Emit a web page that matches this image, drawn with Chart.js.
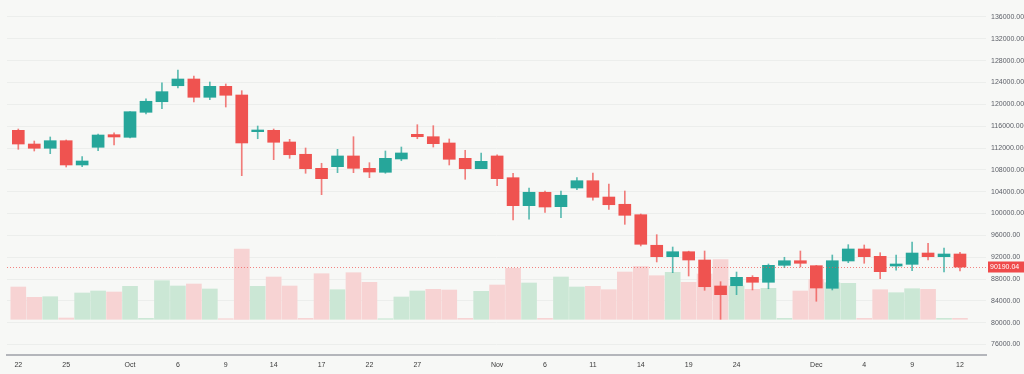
<!DOCTYPE html>
<html>
<head>
<meta charset="utf-8">
<script src="https://cdn.jsdelivr.net/npm/chart.js@4"></script>
<style>
  html, body { margin: 0; padding: 0; background: #f7f8f6; }
  #wrap { width: 1024px; height: 374px; }
</style>
</head>
<body>
<div id="wrap"><canvas id="candles"></canvas></div>
<script>
/******************** data ********************/
const opens  = [115240,112730,111950,113340,108890,112130,114440,113960,118540,120480,
                123410,124640,121290,123300,121710,114990,115240,113100,110850,108280,
                108580,110540,108280,107550,109990,114510,114070,112920,110110,108210,
                110540,106560,101430,103890,101250,104670,106010,103020,101690,99780,
                94180,92090,93000,91480,86720,86770,88310,87400,90510,91350,
                90440,86300,91300,93500,92160,90380,90690,92760,92090,92580];
const highs  = [115480,113280,114020,113470,110410,114570,114800,118650,121030,123960,
                126290,125190,124090,123730,122500,116030,115480,113590,112000,109200,
                111760,114070,109310,111450,112180,116270,116090,113650,111580,111090,
                110770,107370,104670,104120,104120,106560,107420,105410,104120,99910,
                96120,93860,93100,93130,87510,89280,88610,90750,91980,93130,
                90500,92400,94290,94230,92820,92400,94780,94540,93680,92890];
const lows   = [111760,111450,110960,108520,108580,111510,112550,113830,118230,119200,
                122990,120430,120850,119510,106930,113700,109860,110110,107370,103450,
                107480,107480,106560,107370,109670,113700,112180,108890,106270,108210,
                105090,98810,98940,100220,99230,104360,102420,100770,98020,94050,
                91120,89160,88550,85930,80620,85130,85990,86220,90070,90200,
                83920,85990,90990,90880,88060,89600,89520,91480,89280,89470];
const closes = [112730,111950,113340,108890,109620,114380,114020,118650,120560,122320,
                124640,121290,123300,121660,112920,115300,113050,110770,108210,106380,
                110540,108280,107600,110110,111090,114070,112790,109930,108210,109560,
                106380,101430,103890,101190,103340,106010,102970,101610,99670,94360,
                92090,93000,91480,86590,85130,88310,87400,90510,91350,90880,
                86350,91350,93500,92090,89340,90750,92760,92090,92580,90190.04];
const volumes = [32.3,22.0,22.6,1.3,26.3,28.3,27.3,33.0,1.0,38.6,
                 33.3,35.3,30.3,0.6,70.3,33.0,42.3,33.3,1.0,45.6,
                 29.6,46.6,37.0,0.6,22.3,28.3,30.0,29.3,1.0,28.0,
                 34.3,51.0,36.3,1.0,42.3,32.3,33.0,29.6,47.3,52.6,
                 43.6,47.0,37.0,45.3,59.6,33.3,30.0,31.0,1.0,28.3,
                 40.0,36.6,36.0,1.0,29.6,26.6,30.6,30.0,1.0,1.0];
// 1 = up volume bar, 0 = down volume bar
const volUp = [0,0,1,0,1,1,0,1,1,1, 1,0,1,0,0,1,0,0,0,0,
               1,0,0,1,1,1,0,0,0,1, 0,0,1,0,1,1,0,0,0,0,
               0,1,0,0,0,1,0,1,1,0, 0,1,1,0,0,1,1,0,1,0];

const xTickPos  = [0,3,7,10,13,16,19,22,25,30,33,36,39,42,45,50,53,56,59];
const xTickText = ['22','25','Oct','6','9','14','17','22','27','Nov','6','11','14','19','24','Dec','4','9','12'];
const priceTicks = [76000,80000,84000,88000,92000,96000,100000,104000,108000,112000,116000,120000,124000,128000,132000,136000];

/******************** colours ********************/
const UP = '#26a69a';
const DOWN = '#ef5350';
const UP_WICK = 'rgba(38,166,154,0.75)';
const DOWN_WICK = 'rgba(239,83,80,0.75)';
const VOL_UP = '#cbe7d5';
const VOL_DOWN = '#f7d3d3';

/******************** build datasets ********************/
let bodyData = [], wickData = [], volData = [];
let bodyColors = [], wickColors = [], volColors = [];
for (let i = 0; i < opens.length; i++) {
    let up = closes[i] >= opens[i];
    bodyData.push({x: i, y: [opens[i], closes[i]]});
    wickData.push({x: i, y: [lows[i], highs[i]]});
    volData.push({x: i, y: volumes[i]});
    bodyColors.push(up ? UP : DOWN);
    wickColors.push(up ? UP_WICK : DOWN_WICK);
    volColors.push(volUp[i] ? VOL_UP : VOL_DOWN);
}
const lastClose = closes[closes.length - 1];

// dotted last-price line and its red tag on the price scale
const lastPricePlugin = {
    id: 'lastPrice',
    afterDatasetsDraw(chart) {
        const {ctx, chartArea} = chart;
        const y = Math.round(chart.scales.y.getPixelForValue(lastClose)) + 0.5;
        ctx.save();
        ctx.strokeStyle = 'rgba(239,83,80,0.7)';
        ctx.lineWidth = 1;
        ctx.setLineDash([1, 2]);
        ctx.beginPath();
        ctx.moveTo(chartArea.left, y);
        ctx.lineTo(chartArea.right, y);
        ctx.stroke();
        ctx.setLineDash([]);
        ctx.fillStyle = '#ef4a4a';
        ctx.fillRect(chartArea.right + 2, y - 6, chart.width - chartArea.right - 2, 11);
        ctx.fillStyle = '#ffffff';
        ctx.font = '7px "Liberation Sans", Arial, sans-serif';
        ctx.textBaseline = 'middle';
        ctx.textAlign = 'left';
        ctx.fillText(lastClose.toFixed(2), chartArea.right + 4, y);
        ctx.restore();
    }
};

const ctx = document.getElementById('candles');
const chart = new Chart(ctx, {
    type: 'bar',
    data: {
        datasets: [{
            label: 'body',
            data: bodyData,
            backgroundColor: bodyColors,
            barThickness: 12,
            minBarLength: 1.5,
            grouped: false,
            yAxisID: 'y',
            order: 0
        }, {
            label: 'wick',
            data: wickData,
            backgroundColor: wickColors,
            barThickness: 1,
            grouped: false,
            yAxisID: 'y',
            order: 1
        }, {
            label: 'volume',
            data: volData,
            backgroundColor: volColors,
            barThickness: 15,
            grouped: false,
            yAxisID: 'yv',
            order: 2
        }]
    },
    options: {
        responsive: true,
        maintainAspectRatio: false,
        animation: false,
        layout: { padding: { left: 7, right: 0, top: 0, bottom: 0 } },
        plugins: {
            legend: { display: false },
            tooltip: { enabled: false }
        },
        scales: {
            x: {
                type: 'linear',
                offset: false,
                min: -0.708,
                max: 60.63,
                grid: { display: false },
                border: { display: true, color: '#b4b6bb', width: 2 },
                afterBuildTicks: (scale) => {
                    scale.ticks = xTickPos.map(v => ({value: v}));
                },
                afterFit: (scale) => {
                    scale.height = 19;
                    scale.paddingLeft = 0;
                    scale.paddingRight = 0;
                },
                ticks: {
                    autoSkip: false,
                    maxRotation: 0,
                    padding: -2,
                    color: '#3a3a3a',
                    font: { family: '"Liberation Sans", Arial, sans-serif', size: 7 },
                    callback: (value, index) => xTickText[index]
                }
            },
            y: {
                position: 'right',
                min: 74078,
                max: 139114,
                grid: { color: '#eceeec', drawTicks: false },
                border: { display: false },
                afterBuildTicks: (scale) => {
                    scale.ticks = priceTicks.map(v => ({value: v}));
                },
                afterFit: (scale) => {
                    scale.width = 38;
                    scale.paddingTop = 0;
                    scale.paddingBottom = 0;
                },
                ticks: {
                    padding: 5,
                    color: '#5d6068',
                    font: { family: '"Liberation Sans", Arial, sans-serif', size: 7 },
                    callback: (value) => value.toFixed(2)
                }
            },
            yv: {
                display: false,
                min: -35.7,
                max: 319.3
            }
        }
    },
    plugins: [lastPricePlugin]
});
</script>
</body>
</html>
